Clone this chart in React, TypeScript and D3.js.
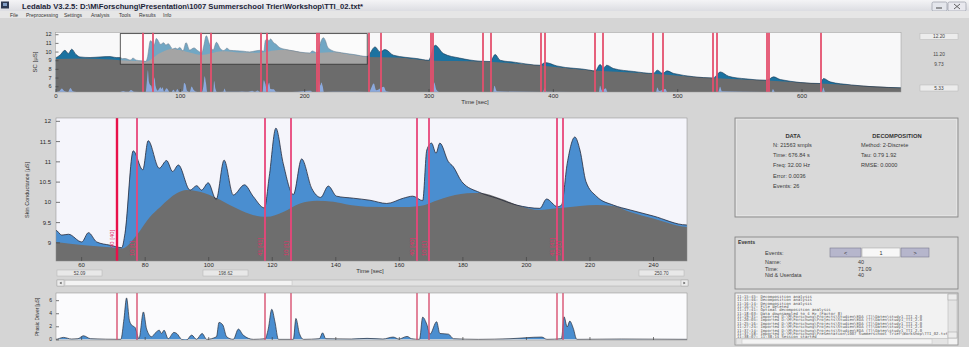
import * as d3 from "d3";
import { useEffect, useRef } from "react";

const FONT = "'Liberation Sans', Arial, Helvetica, sans-serif";
const MONO = "'DejaVu Sans Mono', 'Liberation Mono', monospace";

// skin conductance (total signal) [µS]
const scTime = [
  0, 3.6, 7.6, 10.3, 13, 16.5, 19.7, 27.8, 35.8, 43.8, 49, 52, 53.9, 56, 60.2, 62.3, 64.9, 69.1,
  72.8, 73.8, 76.4, 79.4, 81.1, 84.6, 86.9, 88.8, 90.6, 94.3, 96.4, 97.9, 100, 102.5, 105, 107.9,
  111.4, 114.2, 117.7, 119.2, 121.3, 123.6, 126.8, 129.4, 132.6, 135.4, 137.8, 140.4, 145.7, 150.9,
  156.2, 161.4, 164.4, 167.5, 168.8, 170.3, 171.7, 172.9, 175.6, 177.1, 179.8, 185.5, 190.8, 197.1,
  204.4, 206.5, 209.9, 211.2, 213, 215.4, 217, 218.9, 222.3, 227.5, 232.8, 240.1, 250.6, 257, 261,
  265, 271.8, 290.6, 300, 305.3, 312, 325, 341.5, 349.6, 353.6, 357.6, 370, 389.8, 393.8, 403.2,
  430, 434, 438, 440.7, 443.4, 448.8, 465, 481, 484, 488.5, 491.8, 497.2, 529.2, 534.6, 541.3, 555,
  572.2, 577.5, 582.9, 615, 617.7, 623, 640, 680,
];
const scValue = [
  9.27, 9.58, 10.15, 9.77, 10.27, 9.66, 9.38, 9.31, 9.38, 9.42, 9.3, 9.3, 9.18, 9.2, 9.01, 9.24, 9.01, 8.93,
  8.87, 9.22, 11.26, 10.79, 11.51, 10.83, 11.02, 10.75, 10.91, 10.29, 10.4, 10.29, 10.47, 10.06, 11.03, 10.17,
  10.42, 10.13, 9.85, 10.62, 11.82, 10.95, 10.18, 11.06, 10.33, 10.11, 10.39, 10.14, 10.09, 10.04,
  9.96, 10.09, 10.14, 10.03, 11.28, 11.45, 11.2, 11.45, 10.99, 10.87, 10.5, 10.23, 10.09, 9.92,
  9.84, 10.07, 9.88, 9.92, 10.95, 11.6, 11.28, 10.5, 10.13, 9.92, 9.8, 9.65, 9.43, 10.54, 9.96,
  10.23, 9.58, 9.19, 9.0, 10.73, 9.77, 9.25, 8.89, 8.85, 9.66, 9.0, 8.75, 8.42, 8.73, 8.34,
  7.85, 7.73, 8.5, 8.12, 8.42, 8.04, 7.7, 7.47, 7.85, 7.47, 7.77, 7.47, 6.96, 7.65, 7.15, 6.85,
  6.69, 7.08, 6.77, 6.31, 6.89, 6.5, 6.15, 5.81,
];

// tonic component [µS]
const tonicTime = [
  0, 20, 40, 52, 61, 69, 73, 77.5, 81.7, 85, 90.1, 93.2, 97.4, 102.7, 107.9, 113.1, 118.4, 123.6,
  128.9, 134.1, 139.4, 144.6, 149.8, 160.3, 166.6, 174, 181.4, 185.5, 191.8, 198.1, 204.4, 209.6,
  217, 222.3, 227.5, 232.8, 240.1, 250.6, 275, 300, 345, 390, 430, 480, 528, 572, 615, 650, 680,
];
const tonicValue = [
  9.15, 9.2, 9.1, 9.01, 8.93, 8.88, 8.85, 9.18, 9.63, 9.88, 10.21, 10.29, 10.25, 10.09, 9.88, 9.7, 9.63, 9.75,
  9.96, 10.03, 10.0, 9.92, 9.88, 9.87, 9.9, 10.09, 10.21, 10.22, 10.09, 9.9, 9.8, 9.84,
  9.9, 9.92, 9.9, 9.75, 9.59, 9.38, 9.3, 8.98, 8.84, 8.4, 7.83, 7.45, 6.95, 6.67, 6.3, 6.05, 5.81,
];

// phasic driver [µS]
const driverTime = [
  0, 3, 5, 7, 10, 12, 14, 17, 52, 54.4, 57, 59, 60.7, 63, 72.5, 73.5, 74.3, 75.2, 75.9, 77, 78.2,
  79.6, 80.6, 82.2, 83.2, 84.6, 85.3, 86.1, 87.4, 89.2, 90.1, 91.6, 93, 94.8, 96.3, 98.1, 99.5,
  102.6, 103.4, 104.6, 105.8, 107.9, 109.5, 111, 114.2, 117.9, 118.9, 120, 121, 122.1, 126.8, 127.6,
  128.7, 130, 135, 136, 137, 145, 150, 155, 158.2, 160, 162.6, 164, 166.5, 167.5, 168.8, 169.8,
  171.9, 172.9, 175.6, 177.2, 185, 195, 205, 206.6, 211.2, 212, 213, 213.8, 214.9, 216, 230, 252,
  256, 258, 264, 266, 270, 303, 304.5, 306.5, 309, 352, 353, 355, 392, 393.5, 395, 437, 438, 439.5,
  442.5, 444, 483, 484, 485.5, 490.5, 492, 533, 534.5, 536, 576, 577, 578.5, 616.5, 617.5, 619, 680,
];
const driverValue = [
  0, 0.2, 1.0, 0.3, 0, 1.2, 0.2, 0, 0, 0.3, 0.05, 0.1, 0.55, 0.1, 0, 3.2, 6.35, 2.9, 2.2, 1.8, 0.1,
  4.2, 1.6, 0.4, 0.9, 1.4, 0.9, 1.4, 0.1, 1.06, 0.9, 0, -0.2, 0.65, 0, 0.9, 0,
  0.4, 2.6, 2.2, 0.4, 0, 1.57, 0.65, 0, 0.1, 1.6, 4.6, 2.7, 0, 0, 3.2,
  0.9, 0, 0.1, 1.0, 0.1, 0.05, 0.15, 0.05, 0.35, 0.05, 0.45, 0.1, 0, 3.4, 2.3, 0.8,
  2.7, 0.9, 0.8, 0.1, 0, 0.1, 0.35, 0, 0.1, 3.45, 1.9, 2.8, 1.7, 0, 0.05, 0,
  2.5, 0.5, 1.5, 0.2, 0, 0, 2.8, 0.6, 0, 0, 1.8, 0.2, 0, 1.2, 0.1, 0, 1.8, 0.4,
  1.1, 0, 0, 1.3, 0.3, 0.9, 0, 0, 1.5, 0.2, 0, 0.9, 0, 0, 1.3, 0, 0,
];

// event markers [s]
const eventTime = [
  71.09, 77.7, 117.6, 125.8, 165.6, 169.8, 209.9, 211.8, 252.5, 261, 301.3, 302.9, 343.7,
  350, 390, 394, 434, 440, 480, 488.5, 528.5, 532.7, 572, 574.3, 615,
];
const eventName = [
  "40 [40]", "10 [1]", "41 [41]", "10 [1]", "40 [40]", "10 [1]", "41 [41]", "10 [1]", "40 [40]",
  "10 [1]", "41 [41]", "10 [1]", "40 [40]", "10 [1]", "41 [41]", "10 [1]", "40 [40]", "10 [1]",
  "41 [41]", "10 [1]", "40 [40]", "10 [1]", "41 [41]", "10 [1]", "40 [40]",
];

const overviewXTicks = [0, 100, 200, 300, 400, 500, 600];
const overviewYTicks = [6, 7, 8, 9, 10, 11, 12];
const mainXTicks = [60, 80, 100, 120, 140, 160, 180, 200, 220, 240];
const mainYTicks = [9, 9.5, 10, 10.5, 11, 11.5, 12];
const driverYTicks = [0, 2, 4, 6];

const menuItems = ["File", "Preprocessing", "Settings", "Analysis", "Tools", "Results", "Info"];
const menuX = [10, 26, 64, 91, 119, 139, 163];
const dataInfo = ["N: 21563 smpls", "Time: 676.84 s", "Freq: 32.00 Hz", "Error: 0.0036", "Events: 26"];
const decompInfo = ["Method: 2-Discrete", "Tau: 0.79  1.92", "RMSE: 0.0000"];
const eventFields = ["Name:", "Time:", "Nid & Userdata"];
const eventValues = ["40", "71.09", "40"];
const logLines = [
  "11:15:45: Decomposition analysis",
  "11:15:46: Decomposition analysis",
  "11:16:14: Decomposition analysis",
  "11:16:57: File deleted",
  "11:17:41: Optimal decomposition analysis",
  "11:18:03: Data downsampled to 4 Hz (Factor 8)",
  "11:19:31: Imported D:\\M\\Forschung\\Projects\\Studien\\EDA (T)\\Daten\\study1_TTI_2.0",
  "11:20:05: Imported D:\\M\\Forschung\\Projects\\Studien\\EDA (T)\\Daten\\study1_TTI_2.0",
  "11:25:16: Imported D:\\M\\Forschung\\Projects\\Studien\\EDA (T)\\Daten\\study1_TTI_2.0",
  "11:27:24: Imported D:\\M\\Forschung\\Projects\\Studien\\EDA (T)\\Daten\\study1_TTI_2.0",
  "11:37:14: Imported D:\\M\\Forschung\\Projects\\Studien\\EDA (T)\\Daten\\study1_TTI_2.0",
  "11:37:58: Imported D:\\M\\Forschung\\Presentation\\1007 Summerschool Trier\\Workshop\\TTI_02.txt",
  "11:38:07: 11:38:14 Session started",
];

type P = [number, number];

export default function App() {
  const ovXRef = useRef<SVGGElement>(null);
  const ovYRef = useRef<SVGGElement>(null);
  const mXRef = useRef<SVGGElement>(null);
  const mYRef = useRef<SVGGElement>(null);
  const dXRef = useRef<SVGGElement>(null);
  const dYRef = useRef<SVGGElement>(null);

  // overview
  const ovX = d3.scaleLinear().domain([0, 680]).range([55.5, 901]);
  const ovY = d3.scaleLinear().domain([5.33, 12.2]).range([92, 32.5]);
  const ovD = d3.scaleLinear().domain([0, 7]).range([92, 68]);
  // main window
  const mX = d3.scaleLinear().domain([52.09, 250.7]).range([56, 687]);
  const mY = d3.scaleLinear().domain([8.54, 12.07]).range([261, 118]);
  // driver
  const dY = d3.scaleLinear().domain([-0.1, 7.1]).range([340, 293]);

  const sc: P[] = scTime.map((t, i) => [t, scValue[i]]);
  const tonic: P[] = tonicTime.map((t, i) => [t, tonicValue[i]]);
  const driver: P[] = driverTime.map((t, i) => [t, driverValue[i]]);

  const area = (x: any, y: any, base: number) =>
    d3.area<P>().x((d) => x(d[0])).y0(base).y1((d) => y(d[1])).curve(d3.curveMonotoneX);
  const line = (x: any, y: any) =>
    d3.line<P>().x((d) => x(d[0])).y((d) => y(d[1])).curve(d3.curveMonotoneX);
  // snap markers to an odd pixel so a 2px stroke fills whole pixels
  const px = (v: number) => 2 * Math.round((v - 1) / 2) + 1;

  useEffect(() => {
    const style = (g: any) => {
      g.select(".domain").remove();
      g.attr("font-size", 6).attr("font-family", FONT);
      g.selectAll("text").attr("fill", "#2a2a2a");
      g.selectAll("line").attr("stroke", "#444").attr("stroke-width", 0.7);
    };
    const fmt = d3.format("");
    d3.select(ovXRef.current).call(
      d3.axisBottom(ovX).tickValues(overviewXTicks).tickFormat(fmt).tickSizeInner(-3).tickSizeOuter(0).tickPadding(2)
    ).call(style);
    d3.select(ovYRef.current).call(
      d3.axisLeft(ovY).tickValues(overviewYTicks).tickFormat(fmt).tickSizeInner(-3).tickSizeOuter(0).tickPadding(4)
    ).call(style);
    d3.select(ovYRef.current).attr("font-size", 5.5);
    d3.select(mXRef.current).call(
      d3.axisBottom(mX).tickValues(mainXTicks).tickFormat(fmt).tickSizeInner(-4).tickSizeOuter(0).tickPadding(2)
    ).call(style);
    d3.select(mYRef.current).call(
      d3.axisLeft(mY).tickValues(mainYTicks).tickFormat(fmt).tickSizeInner(-4).tickSizeOuter(0).tickPadding(5)
    ).call(style);
    d3.select(dXRef.current).call(
      d3.axisBottom(mX).tickValues(mainXTicks).tickFormat(() => "").tickSizeInner(-3).tickSizeOuter(0)
    ).call(style);
    d3.select(dYRef.current).call(
      d3.axisLeft(dY).tickValues(driverYTicks).tickFormat(fmt).tickSizeInner(-3).tickSizeOuter(0).tickPadding(4)
    ).call(style);
    d3.select(dYRef.current).attr("font-size", 5);
  }, []);

  const mainEvents = eventTime.map((t, i) => ({ t, name: eventName[i], i })).filter((e) => e.t > 52.09 && e.t < 250.7);

  return (
    <svg width={969} height={347} style={{ position: "absolute", left: 0, top: 0, display: "block" }} fontFamily={FONT}>
      <defs>
        <clipPath id="clipOv"><rect x={55.5} y={32.5} width={845.5} height={59.5} /></clipPath>
        <clipPath id="clipMain"><rect x={56} y={118} width={631} height={143} /></clipPath>
        <clipPath id="clipDrv"><rect x={56} y={293} width={631} height={47} /></clipPath>
        <clipPath id="clipLog"><rect x={736} y={294} width={211} height={44} /></clipPath>
        <linearGradient id="titleGrad" x1="0" y1="0" x2="0" y2="1">
          <stop offset="0" stopColor="#f4f4f6" />
          <stop offset="1" stopColor="#dcdde2" />
        </linearGradient>
      </defs>

      <rect x={0} y={0} width={969} height={347} fill="#d5d5d5" />

      {/* title + menu */}
      <rect x={0} y={0} width={969} height={11} fill="url(#titleGrad)" />
      <rect x={1} y={1.5} width={8} height={7} fill="#2c3850" />
      <rect x={3} y={3} width={4} height={3} fill="#7f9cc4" />
      <text x={22} y={8.5} fontSize={7} fontWeight="bold" fill="#1c2438" textLength={341} lengthAdjust="spacingAndGlyphs">
        Ledalab V3.2.5:  D:\M\Forschung\Presentation\1007 Summerschool Trier\Workshop\TTI_02.txt*
      </text>
      <rect x={932} y={2} width={15} height={9} rx={1.5} fill="#e4e6ec" stroke="#8a8f9c" strokeWidth={0.6} />
      <line x1={936} y1={8} x2={942} y2={8} stroke="#444" strokeWidth={1} />
      <rect x={948} y={2} width={18} height={9} rx={1.5} fill="#e8e8ee" stroke="#8a8f9c" strokeWidth={0.6} />
      <path d="M954,4 L960,9 M960,4 L954,9" stroke="#555" strokeWidth={0.9} />
      <rect x={0} y={11} width={969} height={7} fill="#e6e6e6" />
      {menuItems.map((m, i) => (
        <text key={m} x={menuX[i]} y={16.5} fontSize={5} fill="#333">{m}</text>
      ))}

      {/* overview */}
      <rect x={55.5} y={32.5} width={845.5} height={59.5} fill="#f8f8f9" />
      <g clipPath="url(#clipOv)">
        <path d={area(ovX, ovY, 92)(sc) ?? ""} fill="#1b72a0" />
        <path d={area(ovX, ovY, 92)(tonic) ?? ""} fill="#6c6c6c" />
        <path d={area(ovX, ovD, 92)(driver) ?? ""} fill="#8fb0ea" opacity={0.9} />
        <path d={line(ovX, ovY)(sc) ?? ""} fill="none" stroke="#1a3550" strokeWidth={0.6} />
        <rect x={ovX(52.09)} y={ovY(12.07)} width={ovX(250.7) - ovX(52.09)} height={ovY(8.54) - ovY(12.07)}
          fill="#ffffff" fillOpacity={0.38} stroke="#333" strokeWidth={0.8} />
        {eventTime.map((t, i) => (
          <line key={i} x1={px(ovX(t))} x2={px(ovX(t))} y1={32.5} y2={92} stroke="#e4506e" strokeWidth={1.8} />
        ))}
      </g>
      <rect x={55.5} y={32.5} width={845.5} height={59.5} fill="none" stroke="#9a9a9a" strokeWidth={0.5} />
      <g ref={ovXRef} transform="translate(0,92)" />
      <g ref={ovYRef} transform="translate(55.5,0)" />
      <text x={475} y={104} fontSize={6} fill="#333" textAnchor="middle">Time [sec]</text>
      <text transform="translate(37,62) rotate(-90)" fontSize={6} fill="#333" textAnchor="middle">SC [µS]</text>

      <rect x={920} y={33.5} width={38} height={6} fill="#ececec" stroke="#b8b8b8" strokeWidth={0.5} />
      <text x={939} y={38.3} fontSize={4.8} textAnchor="middle" fill="#444">12.20</text>
      <text x={939} y={56} fontSize={4.8} textAnchor="middle" fill="#444">11.20</text>
      <text x={939} y={66} fontSize={4.8} textAnchor="middle" fill="#444">9.73</text>
      <rect x={920} y={85} width={38} height={6} fill="#ececec" stroke="#b8b8b8" strokeWidth={0.5} />
      <text x={939} y={89.8} fontSize={4.8} textAnchor="middle" fill="#444">5.33</text>

      {/* main window */}
      <rect x={56} y={118} width={631} height={143} fill="#f5f5fb" />
      <g clipPath="url(#clipMain)">
        <path d={area(mX, mY, 261)(sc) ?? ""} fill="#4a8ed0" />
        <path d={area(mX, mY, 261)(tonic) ?? ""} fill="#6e6e6e" />
        <path d={line(mX, mY)(sc) ?? ""} fill="none" stroke="#262a3a" strokeWidth={0.8} />
        {mainEvents.map((e) => (
          <g key={e.i}>
            <line x1={px(mX(e.t))} x2={px(mX(e.t))} y1={118} y2={261}
              stroke={e.i === 0 ? "#e8104a" : "#e8467a"} strokeWidth={e.i === 0 ? 2.4 : 1.8} />
            <text transform={`translate(${px(mX(e.t)) - 3},${e.i === 0 ? 248 : 256}) rotate(-90)`}
              fontSize={6} fill="#e23068">{e.name}</text>
          </g>
        ))}
      </g>
      <rect x={56} y={118} width={631} height={143} fill="none" stroke="#8a8a8a" strokeWidth={0.5} />
      <g ref={mXRef} transform="translate(0,261)" />
      <g ref={mYRef} transform="translate(56,0)" />
      <text x={370} y={272.5} fontSize={6} fill="#333" textAnchor="middle">Time [sec]</text>
      <text transform="translate(29,190) rotate(-90)" fontSize={5.5} fill="#333" textAnchor="middle">Skin Conductance [µS]</text>

      {[[57, "52.09"], [203, "198.62"], [639, "250.70"]].map(([x, s]) => (
        <g key={s as string}>
          <rect x={x as number} y={270} width={45} height={6} fill="#e8e8e8" stroke="#b4b4b4" strokeWidth={0.5} />
          <text x={(x as number) + 22.5} y={274.6} fontSize={4.6} textAnchor="middle" fill="#444">{s}</text>
        </g>
      ))}

      {/* scrollbar */}
      <rect x={57} y={280} width={631} height={6} fill="#e2e2e2" stroke="#a8a8a8" strokeWidth={0.5} />
      <rect x={65} y={280.5} width={227} height={5} fill="#f3f3f3" stroke="#bcbcbc" strokeWidth={0.5} />
      <rect x={57} y={280} width={7} height={6} fill="#ececec" stroke="#a8a8a8" strokeWidth={0.5} />
      <path d="M61.5,281.8 L59.5,283 L61.5,284.2 Z" fill="#444" />
      <rect x={681} y={280} width={7} height={6} fill="#ececec" stroke="#a8a8a8" strokeWidth={0.5} />
      <path d="M683.5,281.8 L685.5,283 L683.5,284.2 Z" fill="#444" />

      {/* phasic driver */}
      <rect x={56} y={293} width={631} height={47} fill="#fbfbfd" />
      <g clipPath="url(#clipDrv)">
        <path d={area(mX, dY, dY(0))(driver) ?? ""} fill="#4a8ed0" />
        <path d={line(mX, dY)(driver) ?? ""} fill="none" stroke="#2a2e3a" strokeWidth={0.7} />
        {mainEvents.map((e) => (
          <line key={e.i} x1={px(mX(e.t))} x2={px(mX(e.t))} y1={293} y2={340} stroke="#d85070" strokeWidth={1.4} />
        ))}
      </g>
      <rect x={56} y={293} width={631} height={47} fill="none" stroke="#8a8a8a" strokeWidth={0.5} />
      <g ref={dXRef} transform="translate(0,340)" />
      <g ref={dYRef} transform="translate(56,0)" />
      <text transform="translate(39,317) rotate(-90)" fontSize={4.8} fill="#333" textAnchor="middle">Phasic Driver [µS]</text>

      {/* DATA / DECOMPOSITION */}
      <rect x={735} y={118} width={223} height={99} fill="#d9d9d9" stroke="#7e7e7e" strokeWidth={0.8} />
      <rect x={736.5} y={119.5} width={220} height={96} fill="none" stroke="#eeeeee" strokeWidth={0.5} />
      <text x={793} y={138} fontSize={5.8} fontWeight="bold" textAnchor="middle" fill="#333">DATA</text>
      <text x={897} y={138} fontSize={5.8} fontWeight="bold" textAnchor="middle" fill="#333">DECOMPOSITION</text>
      {dataInfo.map((s, i) => (
        <text key={s} x={773} y={147 + i * 10.2} fontSize={5.6} fill="#3a3a3a">{s}</text>
      ))}
      {decompInfo.map((s, i) => (
        <text key={s} x={861} y={147 + i * 10.2} fontSize={5.6} fill="#3a3a3a">{s}</text>
      ))}

      {/* Events */}
      <rect x={735} y={237} width={223} height={52} fill="#d9d9d9" stroke="#7e7e7e" strokeWidth={0.8} />
      <text x={738} y={243.5} fontSize={5.2} fontWeight="bold" fill="#333">Events</text>
      <text x={765} y={255} fontSize={5.6} fill="#3a3a3a">Events:</text>
      <rect x={830} y={248} width={31} height={9} fill="#b6b6cc" stroke="#7c7c90" strokeWidth={0.6} />
      <text x={845.5} y={254.6} fontSize={5.5} textAnchor="middle" fill="#333">&lt;</text>
      <rect x={862} y={248} width={38} height={9} fill="#f7f7f7" stroke="#a0a0a0" strokeWidth={0.5} />
      <text x={881} y={254.6} fontSize={5.5} textAnchor="middle" fill="#333">1</text>
      <rect x={901} y={248} width={28} height={9} fill="#b6b6cc" stroke="#7c7c90" strokeWidth={0.6} />
      <text x={915} y={254.6} fontSize={5.5} textAnchor="middle" fill="#333">&gt;</text>
      {eventFields.map((s, i) => (
        <g key={s}>
          <text x={765} y={264 + i * 6.7} fontSize={5.4} fill="#3a3a3a">{s}</text>
          <text x={858} y={264 + i * 6.7} fontSize={5.4} fill="#3a3a3a">{eventValues[i]}</text>
        </g>
      ))}

      {/* log */}
      <rect x={735} y={293} width={223} height={52} fill="#f2f2f2" stroke="#8a8a8a" strokeWidth={0.8} />
      <g clipPath="url(#clipLog)">
        {logLines.map((s, i) => (
          <text key={i} x={737} y={298 + i * 3.35} fontSize={3.9} fontFamily={MONO} fill="#555">{s}</text>
        ))}
      </g>
      <rect x={948} y={294} width={9} height={44} fill="#e4e4e4" stroke="#b0b0b0" strokeWidth={0.5} />
      <rect x={948} y={294} width={9} height={6} fill="#ececec" stroke="#a0a0a0" strokeWidth={0.5} />
      <rect x={948} y={332} width={9} height={6} fill="#ececec" stroke="#a0a0a0" strokeWidth={0.5} />
      <rect x={736} y={338.5} width={212} height={6} fill="#e4e4e4" stroke="#b0b0b0" strokeWidth={0.5} />
      <rect x={742} y={339} width={190} height={5} fill="#f4f4f4" stroke="#c0c0c0" strokeWidth={0.5} />
    </svg>
  );
}
